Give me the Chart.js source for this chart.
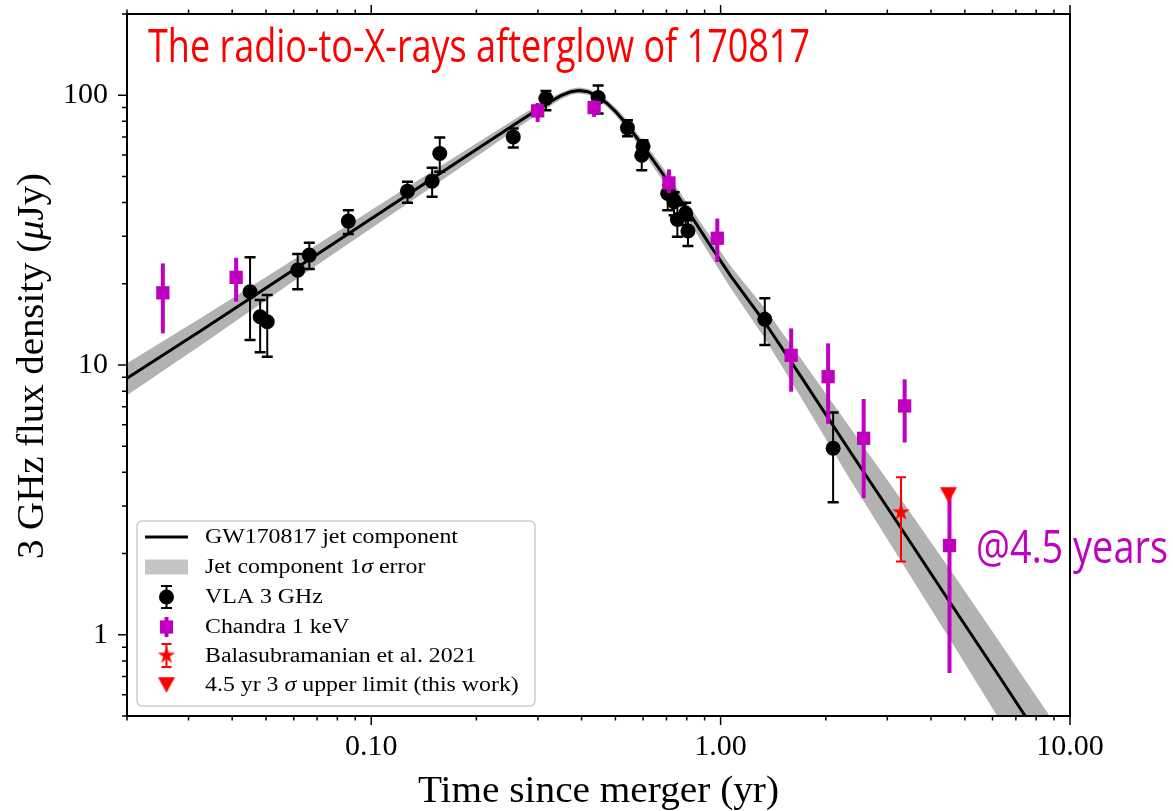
<!DOCTYPE html>
<html><head><meta charset="utf-8">
<script src="https://cdn.jsdelivr.net/npm/chart.js@4/dist/chart.umd.min.js"></script>
<style>html,body{margin:0;padding:0;background:#fff;}#wrap{width:1173px;height:811px;}</style>
</head><body><div id="wrap"><canvas id="c" width="1173" height="811"></canvas></div>
<script>
// ---------------- data ----------------
const modelT = [0.02, 0.0327, 0.0631, 0.1218, 0.2061, 0.2683, 0.3162, 0.349, 0.3727, 0.3929, 0.4169, 0.4421, 0.4724, 0.5012, 0.5413, 0.6173, 0.704, 0.8034, 0.9364, 1.068, 1.336, 1.693, 2.352, 3.268, 4.541, 6.31, 7.435, 10];
const modelF = [8.93, 13.44, 23.54, 41.24, 64.5, 80.8, 92.6, 99.6, 103.0, 104.1, 103.0, 99.6, 93.4, 86.9, 77.4, 61.5, 48.4, 37.5, 27.6, 21.4, 14.43, 9.11, 4.76, 2.51, 1.314, 0.693, 0.501, 0.281];
const bandHigh = [10.15, 15.01, 25.64, 44.15, 67.9, 84.3, 95.8, 102.2, 105.7, 106.8, 105.7, 102.2, 96.2, 89.9, 80.4, 64.5, 51.2, 39.8, 29.8, 23.3, 16.26, 10.62, 5.84, 3.21, 1.741, 0.934, 0.681, 0.389];
const bandLow = [7.72, 11.88, 21.44, 38.20, 60.8, 77.1, 89.1, 96.7, 100.4, 101.5, 100.4, 97.1, 90.7, 84.0, 74.5, 58.4, 45.6, 35.0, 25.3, 19.3, 12.59, 7.62, 3.75, 1.895, 0.958, 0.480, 0.338, 0.1835];

const vlaT  = [0.0450, 0.0481, 0.0504, 0.0616, 0.0665, 0.0860, 0.1270, 0.1494, 0.1571, 0.2550, 0.3162, 0.4461, 0.5413, 0.5998, 0.5947, 0.7057, 0.7357, 0.7520, 0.7943, 0.8064, 1.338, 2.099];
const vlaF  = [18.68, 15.10, 14.47, 22.48, 25.55, 34.15, 44.1, 48.03, 60.83, 70.07, 97.2, 98.1, 75.7, 64.7, 59.9, 43.2, 40.3, 34.6, 36.5, 31.4, 14.77, 4.915];
const vlaHi = [25.06, 17.4, 18.16, 25.77, 28.38, 37.5, 47.75, 53.8, 69.7, 75.3, 103.7, 108.6, 80.8, 68.1, 64.7, 46.4, 43.7, 39.1, 39.9, 34.4, 17.66, 6.66];
const vlaLo = [12.38, 11.14, 10.73, 19.07, 22.68, 30.57, 39.92, 42.0, 52.0, 64.0, 88.0, 85.5, 70.5, 61.5, 52.7, 37.5, 35.9, 29.9, 33.0, 27.6, 11.86, 3.10];

const chandraT  = [0.02533, 0.04106, 0.2995, 0.4345, 0.7115, 0.9785, 1.592, 2.031, 2.567, 3.363, 4.520];
const chandraF  = [18.52, 21.13, 87.5, 90.0, 47.3, 29.5, 10.86, 9.05, 5.35, 7.05, 2.142];
const chandraHi = [23.8, 24.97, 93.6, 95.8, 53.1, 34.9, 13.67, 12.03, 7.48, 8.85, 3.44];
const chandraLo = [13.1, 17.16, 79.6, 83.1, 43.4, 24.1, 7.96, 6.05, 3.21, 5.16, 0.721];

const balaT = [3.283], balaF = [2.847], balaHi = [3.838], balaLo = [1.869];
const limitT = [4.490], limitF = [3.30];

const xMajorTicks = [0.1, 1, 10];
const xTickLabels = ['0.10', '1.00', '10.00'];
const xMinorTicks = [0.02,0.03,0.04,0.05,0.06,0.07,0.08,0.09,0.2,0.3,0.4,0.5,0.6,0.7,0.8,0.9,2,3,4,5,6,7,8,9];
const yMajorTicks = [1, 10, 100];
const yTickLabels = ['1', '10', '100'];
const yMinorTicks = [0.5,0.6,0.7,0.8,0.9,2,3,4,5,6,7,8,9,20,30,40,50,60,70,80,90,200];

const legendLabels = ['GW170817 jet component', 'Jet component 1σ error', 'VLA 3 GHz', 'Chandra 1 keV', 'Balasubramanian et al. 2021', '4.5 yr 3 σ upper limit (this work)'];
const titleText = 'The radio-to-X-rays afterglow of 170817';
const noteText = '@4.5 years';
const xTitle = 'Time since merger (yr)';

// ---------------- styling helpers ----------------
const SERIF = '"Liberation Serif", "DejaVu Serif", serif';
const SANS = '"Liberation Sans Narrow", "Open Sans", sans-serif';
const MAG = '#bf00bf', RED = '#ff0000';
const pts = (xs, ys) => xs.map((v, i) => ({x: v, y: ys[i]}));

function makeStar(R, color) {
  const s = 22, c = document.createElement('canvas'); c.width = s; c.height = s;
  const g = c.getContext('2d'); g.translate(s / 2, s / 2); g.beginPath();
  for (let i = 0; i < 10; i++) {
    const r = i % 2 ? R * 0.381966 : R, a = -Math.PI / 2 + i * Math.PI / 5;
    const px = r * Math.cos(a), py = r * Math.sin(a);
    i ? g.lineTo(px, py) : g.moveTo(px, py);
  }
  g.closePath(); g.fillStyle = color; g.fill(); return c;
}
function makeTri(w, h, color) {
  const s = 20, c = document.createElement('canvas'); c.width = s; c.height = s;
  const g = c.getContext('2d'); g.beginPath();
  g.moveTo(s / 2 - w / 2, s / 2 - h / 2); g.lineTo(s / 2 + w / 2, s / 2 - h / 2); g.lineTo(s / 2, s / 2 + h / 2);
  g.closePath(); g.fillStyle = color; g.fill(); return c;
}
const starImg = makeStar(9.3, RED);
const triImg = makeTri(17, 15.5, RED);

function segWidth(ctx, segs) { let w = 0; segs.forEach(s => { ctx.font = s[1]; w += ctx.measureText(s[0]).width; }); return w; }
function drawSegs(ctx, segs, x, y, sx, align) {
  const w = segWidth(ctx, segs);
  ctx.save(); ctx.translate(x, y); ctx.scale(sx, 1);
  let cx = align === 'center' ? -w / 2 : 0;
  ctx.textAlign = 'left';
  segs.forEach(s => { ctx.font = s[1]; ctx.fillText(s[0], cx, 0); cx += ctx.measureText(s[0]).width; });
  ctx.restore();
}

const errorBars = {
  id: 'errorbars',
  beforeDatasetDraw(chart, args) {
    const ds = chart.data.datasets[args.index];
    if (!ds.errLo) return;
    const {ctx, scales: {x, y}} = chart;
    ctx.save(); ctx.strokeStyle = ds.errColor; ctx.lineCap = 'butt';
    ds.data.forEach((p, i) => {
      const px = x.getPixelForValue(p.x), yl = y.getPixelForValue(ds.errLo[i]), yh = y.getPixelForValue(ds.errHi[i]);
      ctx.lineWidth = ds.errWidth; ctx.beginPath(); ctx.moveTo(px, yl); ctx.lineTo(px, yh); ctx.stroke();
      if (ds.capHalf) {
        ctx.lineWidth = ds.capWidth; ctx.beginPath();
        ctx.moveTo(px - ds.capHalf, yl); ctx.lineTo(px + ds.capHalf, yl);
        ctx.moveTo(px - ds.capHalf, yh); ctx.lineTo(px + ds.capHalf, yh); ctx.stroke();
      }
    });
    ctx.restore();
  }
};

const decor = {
  id: 'decor',
  afterDraw(chart) {
    const {ctx, chartArea: a, scales: {x, y}} = chart;
    ctx.save();
    // frame
    ctx.strokeStyle = '#000'; ctx.lineWidth = 2;
    ctx.strokeRect(a.left, a.top, a.right - a.left, a.bottom - a.top);
    // ticks
    ctx.lineWidth = 1.5; ctx.beginPath();
    const xt = (v, L) => { const p = x.getPixelForValue(v); ctx.moveTo(p, a.bottom); ctx.lineTo(p, a.bottom + L); ctx.moveTo(p, a.top); ctx.lineTo(p, a.top - L); };
    const yt = (v, L) => { const p = y.getPixelForValue(v); ctx.moveTo(a.left, p); ctx.lineTo(a.left - L, p); };
    xMinorTicks.forEach(v => xt(v, 4.5)); xMajorTicks.forEach(v => xt(v, 9));
    yMinorTicks.forEach(v => yt(v, 5)); yMajorTicks.forEach(v => yt(v, 9));
    ctx.stroke();

    // axis titles
    ctx.fillStyle = '#000'; ctx.textBaseline = 'alphabetic';
    const f37 = '37px ' + SERIF, f37i = 'italic 37px ' + SERIF;
    let segs = [[xTitle, f37]];
    drawSegs(ctx, segs, (a.left + a.right) / 2, 802, 361 / segWidth(ctx, segs), 'center');
    segs = [['3 GHz flux density (', f37], ['μ', f37i], ['Jy)', f37]];
    ctx.save(); ctx.translate(43, (a.top + a.bottom) / 2 + 1); ctx.rotate(-Math.PI / 2);
    drawSegs(ctx, segs, 0, 0, 386 / segWidth(ctx, segs), 'center');
    ctx.restore();

    // title and note
    const fT = '45px ' + SANS;
    ctx.fillStyle = RED;
    segs = [[titleText, fT]];
    drawSegs(ctx, segs, 148, 62, 662 / segWidth(ctx, segs), 'left');
    ctx.fillStyle = MAG;
    segs = [[noteText, fT]];
    drawSegs(ctx, segs, 976, 563, 192 / segWidth(ctx, segs), 'left');

    // legend
    const bx = 137, by = 521, bw = 398, bh = 185, r = 5;
    ctx.beginPath();
    ctx.moveTo(bx + r, by); ctx.lineTo(bx + bw - r, by); ctx.arcTo(bx + bw, by, bx + bw, by + r, r);
    ctx.lineTo(bx + bw, by + bh - r); ctx.arcTo(bx + bw, by + bh, bx + bw - r, by + bh, r);
    ctx.lineTo(bx + r, by + bh); ctx.arcTo(bx, by + bh, bx, by + bh - r, r);
    ctx.lineTo(bx, by + r); ctx.arcTo(bx, by, bx + r, by, r); ctx.closePath();
    ctx.fillStyle = 'rgba(255,255,255,0.8)'; ctx.fill();
    ctx.strokeStyle = '#cccccc'; ctx.lineWidth = 1.5; ctx.stroke();

    const rows = [537, 567, 597, 627, 655.5, 685];
    const hx = 166.5;
    ctx.strokeStyle = '#000'; ctx.lineWidth = 3;
    ctx.beginPath(); ctx.moveTo(145, rows[0]); ctx.lineTo(188, rows[0]); ctx.stroke();
    ctx.fillStyle = '#c4c4c4'; ctx.fillRect(145, rows[1] - 7.5, 43, 15);
    ctx.lineWidth = 2; ctx.beginPath(); ctx.moveTo(hx, rows[2] - 11); ctx.lineTo(hx, rows[2] + 11);
    ctx.moveTo(hx - 5.5, rows[2] - 11); ctx.lineTo(hx + 5.5, rows[2] - 11);
    ctx.moveTo(hx - 5.5, rows[2] + 11); ctx.lineTo(hx + 5.5, rows[2] + 11); ctx.stroke();
    ctx.fillStyle = '#000'; ctx.beginPath(); ctx.arc(hx, rows[2], 7.5, 0, 2 * Math.PI); ctx.fill();
    ctx.strokeStyle = MAG; ctx.lineWidth = 4; ctx.beginPath(); ctx.moveTo(hx, rows[3] - 10); ctx.lineTo(hx, rows[3] + 10); ctx.stroke();
    ctx.fillStyle = MAG; ctx.fillRect(hx - 6.6, rows[3] - 6.6, 13.2, 13.2);
    ctx.strokeStyle = RED; ctx.lineWidth = 2; ctx.beginPath(); ctx.moveTo(hx, rows[4] - 11.5); ctx.lineTo(hx, rows[4] + 11.5);
    ctx.moveTo(hx - 5, rows[4] - 11.5); ctx.lineTo(hx + 5, rows[4] - 11.5);
    ctx.moveTo(hx - 5, rows[4] + 11.5); ctx.lineTo(hx + 5, rows[4] + 11.5); ctx.stroke();
    ctx.drawImage(starImg, hx - 11, rows[4] - 11);
    ctx.drawImage(triImg, hx - 10, rows[5] - 10);

    const fL = '20px ' + SERIF, fLi = 'italic 20px ' + SERIF;
    const legSegs = [
      [[legendLabels[0], fL]],
      [['Jet component 1', fL], ['σ', fLi], [' error', fL]],
      [[legendLabels[2], fL]],
      [[legendLabels[3], fL]],
      [[legendLabels[4], fL]],
      [['4.5 yr 3 ', fL], ['σ', fLi], [' upper limit (this work)', fL]]
    ];
    const sx = 253 / segWidth(ctx, legSegs[0]);
    ctx.fillStyle = '#000'; ctx.textBaseline = 'middle';
    legSegs.forEach((s, i) => drawSegs(ctx, s, 205, rows[i] + 1, sx, 'left'));
    ctx.restore();
  }
};

const tickFont = {family: SERIF, size: 30};
const noClip = {left: 0, top: 0, right: 0, bottom: 0};

new Chart(document.getElementById('c'), {
  type: 'line',
  data: {
    datasets: [
      {label: 'band high', data: pts(modelT, bandHigh), borderColor: 'rgba(0,0,0,0)', borderWidth: 0, pointRadius: 0, fill: '+1', backgroundColor: '#b2b2b2', tension: 0, order: 20, clip: noClip},
      {label: 'band low', data: pts(modelT, bandLow), borderColor: 'rgba(0,0,0,0)', borderWidth: 0, pointRadius: 0, fill: false, tension: 0, order: 19, clip: noClip},
      {label: legendLabels[0], data: pts(modelT, modelF), borderColor: '#000', borderWidth: 3, pointRadius: 0, fill: false, tension: 0, order: 10, clip: noClip},
      {label: legendLabels[2], data: pts(vlaT, vlaF), showLine: false, pointStyle: 'circle', pointRadius: 7.5, pointBorderWidth: 0,
        pointBackgroundColor: '#000', pointBorderColor: '#000', order: 5, errLo: vlaLo, errHi: vlaHi, errColor: '#000', errWidth: 2, capHalf: 5.5, capWidth: 2.5},
      {label: legendLabels[3], data: pts(chandraT, chandraF), showLine: false, pointStyle: 'rect', pointRadius: 9.4, pointBorderWidth: 0,
        pointBackgroundColor: MAG, pointBorderColor: MAG, order: 4, errLo: chandraLo, errHi: chandraHi, errColor: MAG, errWidth: 4, capHalf: 0},
      {label: legendLabels[4], data: pts(balaT, balaF), showLine: false, pointStyle: starImg, pointRadius: 10,
        order: 3, errLo: balaLo, errHi: balaHi, errColor: RED, errWidth: 2, capHalf: 5, capWidth: 2},
      {label: legendLabels[5], data: pts(limitT, limitF), showLine: false, pointStyle: triImg, pointRadius: 10, order: 2}
    ]
  },
  options: {
    responsive: false, animation: false, devicePixelRatio: 1, events: [],
    layout: {padding: {left: 0, top: 14, right: 103, bottom: 0}},
    plugins: {legend: {display: false}, tooltip: {enabled: false}, title: {display: false}},
    scales: {
      x: {
        type: 'logarithmic', min: 0.02, max: 10,
        grid: {display: false, drawTicks: false, tickLength: 0},
        border: {display: false},
        afterBuildTicks: s => { s.ticks = xMinorTicks.concat(xMajorTicks).sort((p, q) => p - q).map(v => ({value: v})); },
        afterFit: s => { s.height = 95; s.paddingLeft = 0; s.paddingRight = 0; s.paddingTop = 0; s.paddingBottom = 0; },
        ticks: {
          autoSkip: false, maxRotation: 0, minRotation: 0, padding: 13, color: '#000', font: tickFont,
          callback: v => { const i = xMajorTicks.findIndex(t => Math.abs(t - v) < 1e-9); return i >= 0 ? xTickLabels[i] : ''; }
        }
      },
      y: {
        type: 'logarithmic', min: 0.5, max: 200,
        grid: {display: false, drawTicks: false, tickLength: 0},
        border: {display: false},
        afterBuildTicks: s => { s.ticks = yMinorTicks.concat(yMajorTicks).sort((p, q) => p - q).map(v => ({value: v})); },
        afterFit: s => { s.width = 127; s.paddingLeft = 0; s.paddingRight = 0; s.paddingTop = 0; s.paddingBottom = 0; },
        ticks: {
          autoSkip: false, padding: 19, color: '#000', font: tickFont,
          callback: v => { const i = yMajorTicks.findIndex(t => Math.abs(t - v) < 1e-9); return i >= 0 ? yTickLabels[i] : ''; }
        }
      }
    }
  },
  plugins: [errorBars, decor]
});
</script></body></html>
